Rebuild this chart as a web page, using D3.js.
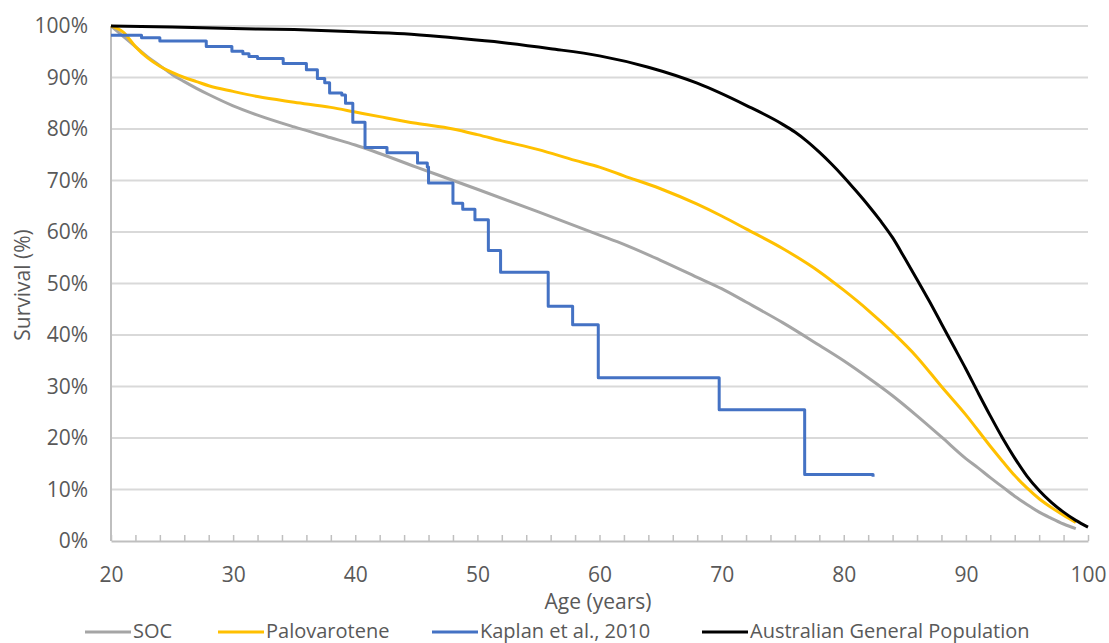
<!DOCTYPE html>
<html>
<head>
<meta charset="utf-8">
<script src="https://cdn.jsdelivr.net/npm/d3@7"></script>
<style>
  body { margin: 0; background: #fff; }
  svg { display: block; font-family: "Open Sans", sans-serif; }
</style>
</head>
<body>
<div id="vis"></div>
<script>
// survival curves (age in years, survival in %)
var socAge  = [20, 21, 22, 23, 24, 25, 26, 27, 28, 30, 32, 35, 38, 40, 45, 50, 55, 60, 62, 65, 68, 70, 72, 75, 78, 80, 82, 84, 86, 88, 90, 91, 92, 93, 94, 95, 96, 97, 98, 99];
var socSurv = [100, 98, 96, 94, 92.3, 90.6, 89.2, 87.9, 86.7, 84.5, 82.7, 80.4, 78.3, 76.9, 72.6, 68.3, 63.9, 59.4, 57.6, 54.5, 51.2, 49, 46.4, 42.4, 38, 35, 31.7, 28.2, 24.3, 20.2, 16, 14.2, 12.3, 10.5, 8.7, 7.1, 5.6, 4.4, 3.3, 2.4];

var paloAge  = [20, 21, 22, 23, 24, 25, 26, 27, 28, 30, 32, 35, 38, 40, 42, 45, 48, 50, 52, 55, 58, 60, 62, 65, 68, 70, 72, 75, 78, 80, 82, 84, 86, 88, 90, 92, 93, 94, 95, 96, 97, 98, 99];
var paloSurv = [100, 98.8, 96, 93.8, 92.2, 91, 90, 89.2, 88.4, 87.3, 86.3, 85.2, 84.2, 83.3, 82.4, 81.1, 80, 78.9, 77.7, 76, 73.9, 72.6, 70.9, 68.4, 65.4, 63.1, 60.6, 56.8, 52.3, 48.7, 44.8, 40.5, 35.7, 30, 24.5, 18.4, 15.5, 12.7, 10.3, 8.2, 6.5, 5, 3.6];

var kaplanAge  = [20, 22.5, 24, 27.8, 29.9, 30.8, 31.3, 32, 34.1, 36, 36.9, 37.5, 37.9, 38.9, 39.2, 39.8, 40.8, 42.6, 45.1, 45.9, 46, 48, 48.8, 49.8, 50.9, 51.9, 55.8, 57.8, 59.9, 69.8, 76.8, 82.4];
var kaplanSurv = [98.2, 97.7, 97.1, 96, 95.1, 94.6, 94.1, 93.7, 92.7, 91.5, 89.8, 89, 87, 86.6, 85, 81.3, 76.4, 75.4, 73.4, 72.6, 69.5, 65.6, 64.4, 62.4, 56.4, 52.2, 45.6, 42, 31.7, 25.5, 12.9, 12.5];

var popAge  = [20, 25, 30, 35, 40, 44, 48, 52, 56, 60, 64, 68, 72, 75, 76, 77, 78, 79, 80, 81, 82, 83, 84, 85, 86, 87, 88, 89, 90, 91, 92, 93, 94, 95, 96, 97, 98, 99, 100];
var popSurv = [100, 99.8, 99.5, 99.3, 98.9, 98.5, 97.7, 96.8, 95.6, 94.2, 92, 88.9, 84.6, 80.9, 79.4, 77.6, 75.5, 73.2, 70.7, 68, 65.2, 62.2, 58.9, 54.9, 50.8, 46.6, 42.2, 37.8, 33.4, 28.8, 24.3, 20, 16.1, 12.6, 9.8, 7.5, 5.6, 4, 2.7];

var seriesNames = ["SOC", "Palovarotene", "Kaplan et al., 2010", "Australian General Population"];
var seriesColors = ["#A5A5A5", "#FFC000", "#4472C4", "#000000"];
var yTicks = [0, 10, 20, 30, 40, 50, 60, 70, 80, 90, 100];

var width = 1109, height = 643;
var svg = d3.select('#vis').append('svg')
    .attr('width', width)
    .attr('height', height);

var x = d3.scaleLinear().domain([20, 100]).range([111, 1088]);
var y = d3.scaleLinear().domain([0, 100]).range([541, 26]);

// horizontal gridlines
svg.append('g')
  .selectAll('line')
  .data(yTicks.slice(1))
  .enter().append('line')
    .attr('x1', x(20)).attr('x2', x(100))
    .attr('y1', function(d){ return y(d); })
    .attr('y2', function(d){ return y(d); })
    .attr('stroke', '#D9D9D9')
    .attr('stroke-width', 2);

// y labels
svg.append('g')
  .selectAll('text')
  .data(yTicks)
  .enter().append('text')
    .attr('x', 88)
    .attr('y', function(d){ return y(d); })
    .attr('dy', '0.35em')
    .attr('text-anchor', 'end')
    .attr('fill', '#595959')
    .style('font-size', '21px')
    .text(function(d){ return d + '%'; });

// x axis: minor ticks every 2 years pointing up, labels every 10
var xAxis = d3.axisBottom(x)
    .tickValues(d3.range(20, 101, 2))
    .tickSizeInner(-6)
    .tickSizeOuter(0)
    .tickFormat(function(d){ return d % 10 == 0 ? d : ''; });
var gx = svg.append('g')
    .attr('transform', 'translate(0,' + y(0) + ')')
    .call(xAxis);
gx.select('.domain').attr('stroke', '#BFBFBF').attr('stroke-width', 2);
gx.selectAll('.tick line').attr('stroke', '#BFBFBF').attr('stroke-width', 1.5);
gx.selectAll('.tick text')
    .attr('y', 34)
    .attr('dy', '0.35em')
    .attr('fill', '#595959')
    .style('font-size', '21px')
    .style('font-family', '"Open Sans", sans-serif');

// y axis line
svg.append('line')
    .attr('x1', x(20)).attr('x2', x(20))
    .attr('y1', y(100)).attr('y2', y(0))
    .attr('stroke', '#BFBFBF')
    .attr('stroke-width', 2);

// axis titles
svg.append('text')
    .attr('transform', 'translate(23,' + 285 + ') rotate(-90)')
    .attr('text-anchor', 'middle')
    .attr('dy', '0.35em')
    .attr('fill', '#595959')
    .style('font-size', '21px')
    .text('Survival (%)');
svg.append('text')
    .attr('x', 598)
    .attr('y', 602)
    .attr('dy', '0.35em')
    .attr('text-anchor', 'middle')
    .attr('fill', '#595959')
    .style('font-size', '21px')
    .text('Age (years)');

// curves
function pairs(a, b){
    var out = [];
    for(var i = 0; i < a.length; i++){ out.push([a[i], b[i]]); }
    return out;
}
var smooth = d3.line()
    .x(function(d){ return x(d[0]); })
    .y(function(d){ return y(d[1]); })
    .curve(d3.curveMonotoneX);
var step = d3.line()
    .x(function(d){ return x(d[0]); })
    .y(function(d){ return y(d[1]); })
    .curve(d3.curveStepAfter);

var lines = [
    {path: smooth(pairs(socAge, socSurv)), color: seriesColors[0]},
    {path: smooth(pairs(paloAge, paloSurv)), color: seriesColors[1]},
    {path: step(pairs(kaplanAge, kaplanSurv)), color: seriesColors[2]},
    {path: smooth(pairs(popAge, popSurv)), color: seriesColors[3]}
];
svg.append('g')
  .selectAll('path')
  .data(lines)
  .enter().append('path')
    .attr('d', function(d){ return d.path; })
    .attr('fill', 'none')
    .attr('stroke', function(d){ return d.color; })
    .attr('stroke-width', 3)
    .attr('stroke-linejoin', 'round');

// legend
var legendX = [85, 218, 432, 702];
var lg = svg.append('g')
  .selectAll('g')
  .data(seriesNames)
  .enter().append('g')
    .attr('transform', function(d, i){ return 'translate(' + legendX[i] + ',631)'; });
lg.append('line')
    .attr('x1', 0).attr('x2', 46)
    .attr('y1', 1).attr('y2', 1)
    .attr('stroke', function(d, i){ return seriesColors[i]; })
    .attr('stroke-width', 3);
lg.append('text')
    .attr('x', 48)
    .attr('dy', '0.35em')
    .attr('fill', '#595959')
    .style('font-size', '20px')
    .text(function(d){ return d; });
</script>
</body>
</html>
